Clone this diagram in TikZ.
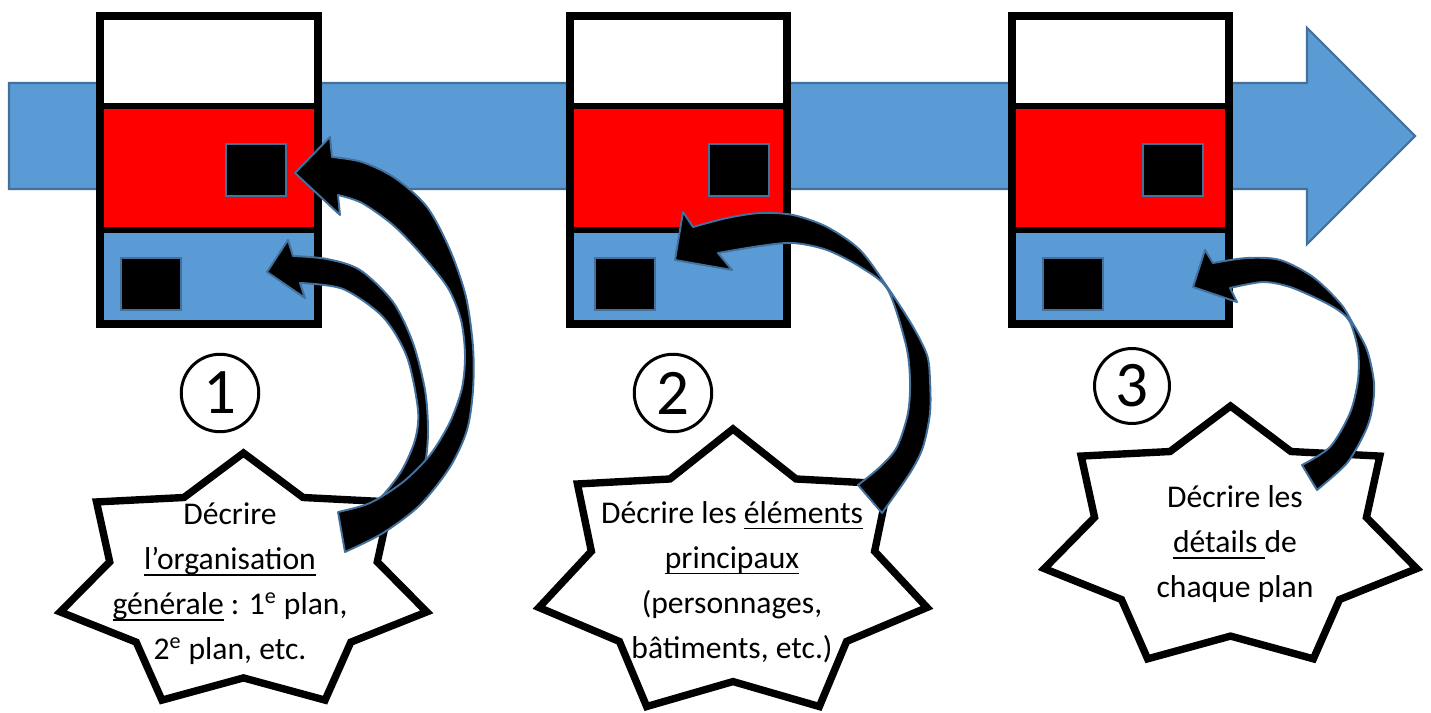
\documentclass[tikz,border=0pt]{standalone}
\usepackage{fontspec}
\setmainfont{Carlito}
\usepackage{tikz}

\definecolor{bleu}{HTML}{5B9BD5}
\definecolor{bleufonce}{HTML}{41719C}
\definecolor{rouge}{HTML}{FF0000}

\newcommand{\souligne}[1]{\setbox0\hbox{#1}\rlap{\rule[-3.5pt]{\wd0}{0.9pt}}\box0\relax}
\newcommand{\etoile}[4]{%
  \draw[bordetoile] (#1,{#2-#4}) \foreach \k in {1,...,13}{ -- ({#1+(0.865+0.135*cos(\k*180))*#3*sin(\k*180/7)},{#2-(0.865+0.135*cos(\k*180))*#4*cos(\k*180/7)}) } -- cycle;}

\tikzset{
  bandeau/.style={fill=bleu, draw=bleufonce, line width=1.2pt},
  cadre/.style={draw=black, line width=4.5pt},
  carre/.style={fill=black, draw=bleufonce, line width=1pt},
  bordetoile/.style={draw=black, fill=white, line width=4.2pt, line join=miter},
  numero/.style={circle, draw=black, line width=1.7pt, minimum size=1.55cm, inner sep=0pt, font=\fontsize{37}{37}\selectfont},
  texte/.style={align=center, font=\fontsize{18}{25.6}\selectfont},
  fleche/.style={fill=black, draw=bleufonce, line width=1.1pt, line join=round}
}

\begin{document}
\begin{tikzpicture}[x=0.02cm, y=-0.02cm]
	\useasboundingbox (0,0) rectangle (1431,713);
	\draw[bandeau] (9,83) -- (1307,83) -- (1307,28) -- (1415,136) -- (1307,244) -- (1307,189) -- (9,189) -- cycle;
	\foreach \g/\d/\rx/\bx in {100/318/226/121, 570/787/709/595, 1012/1229/1143/1043} {
		\fill[white] (\g,16) rectangle (\d,106);
		\fill[rouge] (\g,106) rectangle (\d,230);
		\fill[bleu] (\g,230) rectangle (\d,324);
		\draw[carre] (\rx,144) rectangle ++(60,52);
		\draw[carre] (\bx,258) rectangle ++(60,52);
		\draw[cadre] (\g,16) rectangle (\d,324);
		\draw[line width=3.6pt] (\g,106) -- (\d,106) (\g,230) -- (\d,230);
	}
	\etoile{243.5}{583}{188}{130}
	\etoile{733}{575}{199}{146}
	\etoile{1230.5}{539}{191}{133}
	\node[numero] (num1) at (220,393) {1};
	\node[numero] (num2) at (673,393) {2};
	\node[numero, minimum size=1.5cm] (num3) at (1132,386) {3};
	\node[texte] (txt1) at (230,584) {Décrire\\\souligne{l’organisation}\\\souligne{générale} : 1\textsuperscript{e} plan,\\2\textsuperscript{e} plan, etc.};
	\node[texte] (txt2) at (732,582) {Décrire les \souligne{éléments}\\\souligne{principaux}\\(personnages,\\bâtiments, etc.)};
	\node[texte] (txt3) at (1235,544) {Décrire les\\\souligne{détails\ }de\\chaque plan};
	% fleches courbes
	\draw[fleche] (267,272) -- (288,240) -- plot[smooth] coordinates {(293,256) (327,259) (360,270) (393,302) (413,343) (425,390) (428,430) (425,463) (413,490) (395,512) (378,525)} -- plot[smooth] coordinates {(362,512) (383,495) (402,470) (415,440) (418,410) (407,357) (383,317) (343,289) (300,283)} -- (305,298) -- cycle;
	\draw[fleche] (295,173) -- (330,137) -- plot[smooth] coordinates {(332,157) (362,162) (395,178) (427,207) (450,250) (466,297) (473,347) (473,390) (467,430) (450,467) (420,505) (383,533) (345,552)} -- plot[smooth] coordinates {(338,512) (370,503) (403,482) (430,455) (450,422) (462,388) (465,355) (461,320) (448,288) (422,255) (393,225) (362,203) (338,195)} -- (340,215) -- cycle;
	\draw[fleche] (675,260) -- (683,212) -- plot[smooth] coordinates {(693,227) (727,218) (760,213) (793,215) (827,227) (860,250) (888,288) (912,325) (927,355) (930,380) (930,413) (923,447) (910,473) (882,513)} -- plot[smooth] coordinates {(858,485) (880,467) (897,447) (908,413) (910,380) (906,345) (888,290) (862,268) (827,250) (793,243) (760,246) (718,253)} -- (732,270) -- cycle;
	\draw[fleche] (1193,287) -- (1205,250) -- plot[smooth] coordinates {(1213,263) (1247,258) (1280,260) (1313,277) (1340,303) (1352,322) (1367,350) (1374,383) (1372,410) (1365,432) (1347,463) (1317,490)} -- plot[smooth] coordinates {(1302,465) (1330,447) (1350,413) (1358,380) (1358,350) (1350,322) (1338,310) (1320,300) (1290,287) (1263,282) (1230,288)} -- (1237,302) -- cycle;
\end{tikzpicture}
\end{document}
